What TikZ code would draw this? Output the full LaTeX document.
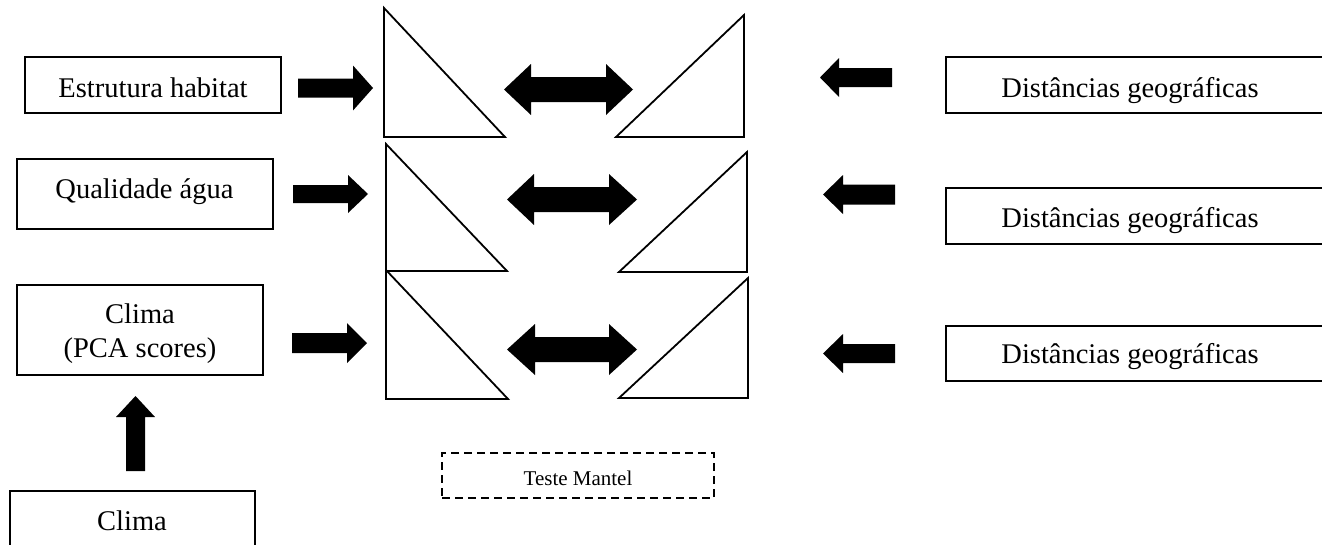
\documentclass[tikz,border=0pt]{standalone}
\usepackage{fontspec}
\setmainfont{Liberation Serif}
\newcommand{\blkArrow}[6]{\fill (#1,{#4-#5}) -- (#2,{#4-#5}) -- (#2,{#4-#6}) -- (#3,#4) -- (#2,{#4+#6}) -- (#2,{#4+#5}) -- (#1,{#4+#5}) -- cycle;}
\newcommand{\blkDouble}[7]{\fill (#1,#5) -- (#2,{#5-#7}) -- (#2,{#5-#6}) -- (#3,{#5-#6}) -- (#3,{#5-#7}) -- (#4,#5) -- (#3,{#5+#7}) -- (#3,{#5+#6}) -- (#2,{#5+#6}) -- (#2,{#5+#7}) -- cycle;}
\begin{document}
\begin{tikzpicture}[x=1pt,y=-1pt,
  box/.style={draw, line width=1.8pt, rectangle, inner sep=0pt},
  lbl/.style={anchor=base, inner sep=0pt, font=\fontsize{28.5}{34}\selectfont},
  small/.style={anchor=base, inner sep=0pt, font=\fontsize{21}{25}\selectfont},
  tri/.style={draw, line width=1.8pt, line join=miter}]
\useasboundingbox (0,0) rectangle (1322,544);
\clip (0,0) rectangle (1322,544);
% left boxes
\node[box, minimum width=256pt, minimum height=56pt] (b1) at (153,85) {};
\node[lbl] (b1t) at (153,97) {Estrutura habitat};
\node[box, minimum width=256pt, minimum height=70pt] (b2) at (145,194) {};
\node[lbl] (b2t) at (144.5,198) {Qualidade água};
\node[box, minimum width=246pt, minimum height=90pt] (b3) at (140,330) {};
\node[lbl] (b3a) at (140,323) {Clima};
\node[lbl] (b3b) at (140,357) {(PCA scores)};
\node[box, minimum width=245pt, minimum height=70pt] (b4) at (132.5,526) {};
\node[lbl] (b4t) at (132,530) {Clima};
% right boxes
\node[box, minimum width=390pt, minimum height=56pt] (d1) at (1141,85) {};
\node[lbl] (d1t) at (1130,97) {Distâncias geográficas};
\node[box, minimum width=390pt, minimum height=56pt] (d2) at (1141,216) {};
\node[lbl] (d2t) at (1130,227) {Distâncias geográficas};
\node[box, minimum width=390pt, minimum height=55pt] (d3) at (1141,353.5) {};
\node[lbl] (d3t) at (1130,363) {Distâncias geográficas};
% Mantel
\node[draw, line width=1.5pt, dash pattern=on 8pt off 5pt, minimum width=272pt, minimum height=45pt, inner sep=0pt] (m) at (578,475.5) {};
\node[small] (mt) at (578,485) {Teste Mantel};
% triangles left
\draw[tri] (384,8) -- (384,137) -- (505,137) -- cycle;
\draw[tri] (386,144) -- (386,271) -- (507,271) -- cycle;
\draw[tri] (386,270) -- (386,399) -- (508,399) -- cycle;
% triangles right
\draw[tri] (744,15) -- (744,137) -- (616,137) -- cycle;
\draw[tri] (747,152) -- (747,272) -- (619,272) -- cycle;
\draw[tri] (748,278) -- (748,398) -- (619,398) -- cycle;
% right arrows
\blkArrow{298}{353}{373}{88}{9.5}{22.5}
\blkArrow{293}{348}{368}{194}{9}{19}
\blkArrow{292}{347}{367}{343}{10}{20}
% double arrows
\blkDouble{504}{531}{606}{633}{89.5}{12.5}{25.5}
\blkDouble{507}{534}{609}{637}{199.5}{12.5}{25.5}
\blkDouble{507}{535}{609}{637}{349.5}{12.5}{25.5}
% left arrows
\blkArrow{892}{839}{820}{77.5}{9.5}{19.5}
\blkArrow{895}{843}{823}{194.5}{10}{19.5}
\blkArrow{895}{843}{823}{353.5}{9.5}{19.5}
% up arrow
\fill (126,471) -- (126,417) -- (116,417) -- (135.5,396) -- (155,417) -- (145,417) -- (145,471) -- cycle;
\end{tikzpicture}
\end{document}
